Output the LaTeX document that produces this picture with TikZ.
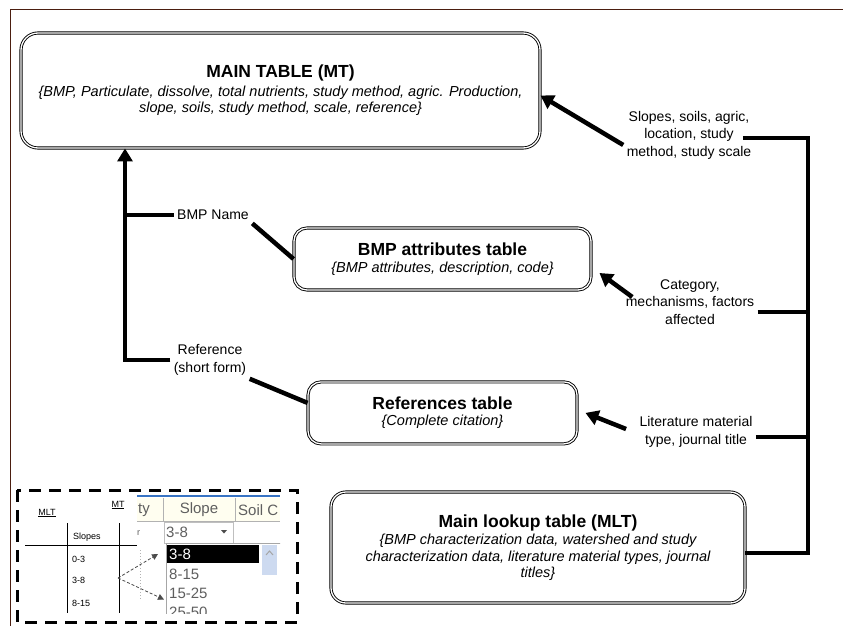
\documentclass[tikz,border=0pt]{standalone}
\usepackage{fontspec}
\setmainfont{Liberation Sans}
\usepackage{xcolor}
\usepackage{tikz}
\usetikzlibrary{arrows.meta, positioning, calc}

\definecolor{framebrown}{RGB}{75,30,15}
\definecolor{gridblue}{RGB}{55,115,195}
\definecolor{scrollblue}{RGB}{205,218,240}
\definecolor{shotgray}{RGB}{95,95,95}

\begin{document}
\begin{tikzpicture}[
    x=1pt, y=-1pt,
    tablebox/.style={draw=black, double=white, double distance=1.3pt, line width=0.9pt, rounded corners=13pt, align=center, font=\itshape\fontsize{14.5}{16.5}\selectfont},
    note/.style={align=center, font=\fontsize{14}{17.5}\selectfont},
    bus/.style={line width=4.5pt},
    feed/.style={line width=4.5pt, -{Triangle[length=13pt,width=15pt]}},
    inset/.style={inner sep=1pt, font=\fontsize{9}{10}\selectfont},
    shot/.style={inner sep=1pt, text=shotgray, font=\fontsize{15}{16}\selectfont},
    pick/.style={densely dashed, line width=0.8pt, black!70, -{Triangle[length=6pt,width=6pt]}},
]
\useasboundingbox (0,0) rectangle (843,626);
\fill[white] (0,0) rectangle (843,626);
\draw[framebrown, line width=1.3pt] (843,9.5) -- (10.5,9.5) -- (10.5,626);

% tables
\node[tablebox, rounded corners=17pt, minimum width=519pt, minimum height=115pt] (mt) at (280.5,90.5)
    {{\upshape\bfseries\fontsize{17.5}{20}\selectfont MAIN TABLE (MT)}\\[2pt]
     \{BMP, Particulate, dissolve, total nutrients, study method, agric. Production,\\
     slope, soils, study method, scale, reference\}};
\node[tablebox, minimum width=297pt, minimum height=62pt] (bmp) at (442.5,259)
    {{\upshape\bfseries\fontsize{17.5}{20}\selectfont BMP attributes table}\\
     \{BMP attributes, description, code\}};
\node[tablebox, minimum width=269pt, minimum height=62pt, below=91pt of bmp] (refs)
    {{\upshape\bfseries\fontsize{17.5}{20}\selectfont References table}\\
     \{Complete citation\}};
\node[tablebox, rounded corners=15pt, minimum width=414pt, minimum height=111pt] (mlt) at (538,547.5)
    {{\upshape\bfseries\fontsize{17.5}{20}\selectfont Main lookup table (MLT)}\\[1pt]
     \{BMP characterization data, watershed and study\\
     characterization data, literature material types, journal\\
     titles\}};

% field labels
\node[note] (slopes) at (689,135) {Slopes, soils, agric,\\ location, study\\ method, study scale};
\node[note] (category) at (690,302) {Category,\\ mechanisms, factors\\ affected};
\node[note] (lit) at (696,432) {Literature material\\ type, journal title};
\node[note] (bmpname) at (213,215) {BMP Name};
\node[note] (refname) at (210,360) {Reference\\ (short form)};

% right bus from the lookup table
\coordinate (rbus) at (808,138);
\draw[bus] ([xshift=-12pt]slopes.east |- rbus) -- (rbus) |- ([yshift=-5.5pt]mlt.east);
\draw[bus] ([yshift=-10pt]category.east) -| (rbus);
\draw[bus] ([yshift=-5pt]lit.east) -| (rbus);
\draw[feed] ([yshift=-10pt]slopes.west) -- ([yshift=-5pt]mt.east);
\draw[feed] ([xshift=10pt,yshift=5pt]category.west) -- ([xshift=8pt,yshift=-14pt]bmp.east);
\draw[feed] ([xshift=-10pt,yshift=3pt]lit.west) -- ([xshift=8pt]refs.east);

% left bus to the main table
\coordinate (lbus) at (125,0);
\draw[feed] (refname.west) -| (mt.south -| lbus);
\draw[bus] (bmpname.west) -- (bmpname.west -| lbus);
\draw[bus] (bmpname.south east) -- (bmp.west);
\draw[bus] (refname.south east) -- ([yshift=10pt]refs.west);

% lookup inset
\draw[line width=3pt, dash pattern=on 12pt off 8pt] (17,490) rectangle (297,622);
\node[inset] (mltlbl) at (47,513) {\underline{MLT}};
\node[inset] (mtlbl) at (118,505) {\underline{MT}};
\draw[line width=0.8pt] (67,523) -- (67,613) (119,523) -- (119,613) (25,545) -- (137,545);
\node[inset, anchor=west] (slopeshd) at (72,537) {Slopes};
\node[inset, anchor=west] (r03) at (71,559) {0-3};
\node[inset, anchor=west] (r38) at (71,580) {3-8};
\node[inset, anchor=west] (r815) at (71,603) {8-15};

\begin{scope}
\clip (137,493) rectangle (280,613);
\fill[yellow!6] (137,498) rectangle (280,521);
\draw[gridblue, line width=2.5pt] (137,496) -- (280,496);
\draw[gray!60] (163,498) -- (163,521) (235,498) -- (235,521) (137,521.5) -- (280,521.5);
\node[shot, anchor=west] (colty) at (137,510) {ty};
\node[shot] (colslope) at (199,510) {Slope};
\node[shot, anchor=west] (colsoil) at (237,510) {Soil C};
\node[shot, anchor=west, font=\fontsize{9}{10}\selectfont] (rowend) at (136,533) {r};
\draw[gray!50] (164,522) rectangle (233,543);
\node[shot, anchor=west] (combo) at (165,532) {3-8};
\fill[black!70] (221,530) -- (227,530) -- (224,533.5) -- cycle;
\draw[gray!60, dotted, line width=1pt] (140,550) -- (140,600);
\draw[gray!70, fill=white] (166,543) rectangle (283,620);
\fill[black] (167,545) rectangle (259,563);
\node[shot, anchor=west, text=white] (sel) at (168,554) {3-8};
\node[shot, anchor=west] (it2) at (168,574) {8-15};
\node[shot, anchor=west] (it3) at (168,593) {15-25};
\node[shot, anchor=west] (it4) at (168,612) {25-50};
\fill[scrollblue] (262,545) rectangle (277,575);
\draw[gray!70, line width=1pt] (266,555) -- (269.5,551) -- (273,555);
\end{scope}

\coordinate (fork) at (118,578);
\draw[pick] (fork) -- ([xshift=-10pt]sel.west);
\draw[pick] (fork) -- ([xshift=-4pt]it3.south west);
\end{tikzpicture}
\end{document}
